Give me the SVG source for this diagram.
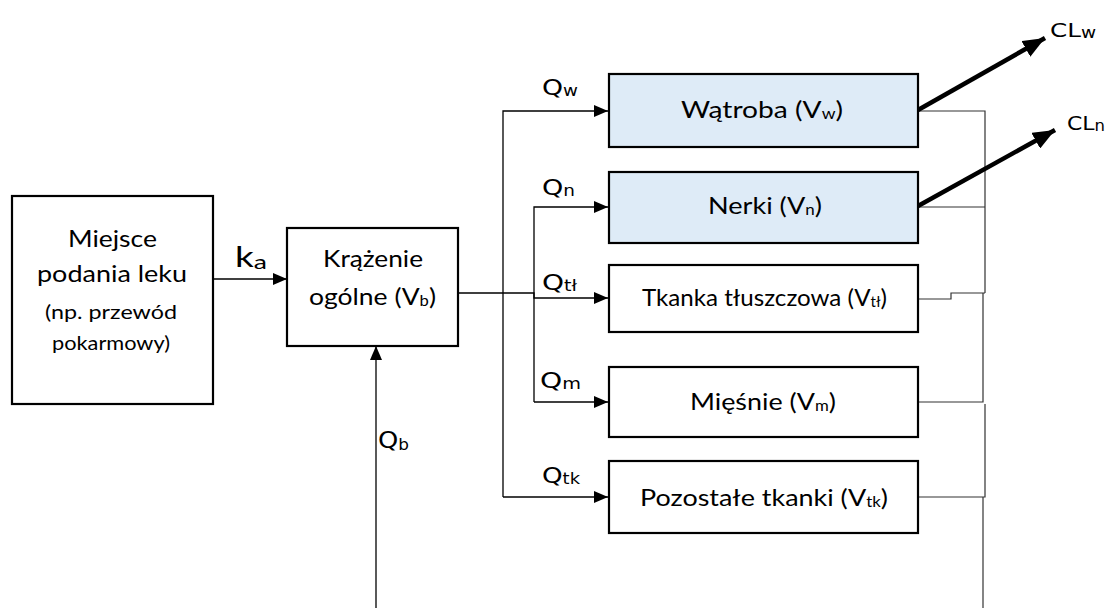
<svg xmlns="http://www.w3.org/2000/svg" width="1107" height="608" viewBox="0 0 1107 608">
  <defs>
    <marker id="arrow" viewBox="0 0 14 12" refX="14" refY="6" markerWidth="14" markerHeight="12" markerUnits="userSpaceOnUse" orient="auto">
      <path d="M0,0 L14,6 L0,12 Z" fill="#000"/>
    </marker>
    <marker id="arrow-big" viewBox="0 0 22 18" refX="22" refY="9" markerWidth="22" markerHeight="18" markerUnits="userSpaceOnUse" orient="auto">
      <path d="M0,0 L22,9 L0,18 Z" fill="#000"/>
    </marker>
    <style>
      .box { fill: #fff; stroke: #000; stroke-width: 2.2; }
      .organ { fill: #deebf7; stroke: #000; stroke-width: 2.2; }
      .wire { fill: none; stroke: #000; stroke-width: 1.3; }
      .ret { fill: none; stroke: #333; stroke-width: 1.2; }
      .clear { fill: none; stroke: #000; stroke-width: 4.5; }
      .t { font-family: Lato, "Liberation Sans", sans-serif; fill: #000; font-size: 24px; }
      .lbl { font-family: "DejaVu Sans", Verdana, sans-serif; fill: #000; font-size: 22px; }
      .sub { font-size: 15px; }
    </style>
  </defs>

  <!-- flows between compartments -->
  <g id="connectors">
    <!-- absorption -->
    <line class="wire" x1="213" y1="279" x2="287" y2="279" marker-end="url(#arrow)"/>
    <!-- arterial outflow from central circulation -->
    <polyline class="wire" points="458,293 534,293 534,298 608,298" marker-end="url(#arrow)"/>
    <!-- outer distribution bus: liver and remaining tissues -->
    <polyline class="wire" points="503,497 503,111 608,111" marker-end="url(#arrow)"/>
    <line class="wire" x1="503" y1="497" x2="608" y2="497" marker-end="url(#arrow)"/>
    <!-- inner distribution bus: kidneys, fat, muscle -->
    <polyline class="wire" points="534,402 534,207 608,207" marker-end="url(#arrow)"/>
    <line class="wire" x1="534" y1="402" x2="608" y2="402" marker-end="url(#arrow)"/>
    <!-- venous return -->
    <polyline class="ret" points="918,111 985,111 985,293"/>
    <line class="ret" x1="918" y1="207" x2="985" y2="207"/>
    <polyline class="ret" points="918,299 951,299 951,293 985,293"/>
    <polyline class="ret" points="983,293 983,402 918,402"/>
    <polyline class="ret" points="985,404 985,497 918,497"/>
    <line class="ret" x1="983" y1="497" x2="983" y2="608"/>
    <!-- return into central circulation -->
    <line class="wire" x1="376" y1="608" x2="376" y2="346" marker-end="url(#arrow)"/>
    <!-- elimination -->
    <line class="clear" x1="918" y1="110" x2="1045" y2="38" marker-end="url(#arrow-big)"/>
    <line class="clear" x1="918" y1="206" x2="1055" y2="130" marker-end="url(#arrow-big)"/>
  </g>

  <!-- flow labels -->
  <g id="labels">
    <text class="t" x="235" y="267" style="font-size:28px" textLength="32" lengthAdjust="spacingAndGlyphs">k<tspan style="font-size:20px" dy="2">a</tspan></text>
    <text class="lbl" x="542" y="95" textLength="36" lengthAdjust="spacingAndGlyphs">Q<tspan class="sub" dy="1">w</tspan></text>
    <text class="lbl" x="542" y="195" textLength="33" lengthAdjust="spacingAndGlyphs">Q<tspan class="sub" dy="1">n</tspan></text>
    <text class="lbl" x="542" y="290" textLength="35" lengthAdjust="spacingAndGlyphs">Q<tspan class="sub" dy="1">tł</tspan></text>
    <text class="lbl" x="540" y="388" textLength="41" lengthAdjust="spacingAndGlyphs">Q<tspan class="sub" dy="1">m</tspan></text>
    <text class="lbl" x="542" y="483" textLength="38" lengthAdjust="spacingAndGlyphs">Q<tspan class="sub" dy="1">tk</tspan></text>
    <text class="lbl" x="378" y="448" style="font-size:23px" textLength="31" lengthAdjust="spacingAndGlyphs">Q<tspan class="sub" dy="2">b</tspan></text>
    <text class="lbl" x="1050" y="37" style="font-size:20px" textLength="46" lengthAdjust="spacingAndGlyphs">CL<tspan class="sub" dy="1">w</tspan></text>
    <text class="lbl" x="1067" y="130" style="font-size:20px" textLength="38" lengthAdjust="spacingAndGlyphs">CL<tspan class="sub" dy="1">n</tspan></text>
  </g>

  <g id="site">
    <rect class="box" x="12" y="196" width="201" height="208"/>
    <text class="t" x="68" y="247" textLength="89" lengthAdjust="spacingAndGlyphs">Miejsce</text>
    <text class="t" x="37" y="282" textLength="150" lengthAdjust="spacingAndGlyphs">podania leku</text>
    <text class="t" x="45" y="319" style="font-size:20px" textLength="132" lengthAdjust="spacingAndGlyphs">(np. przewód</text>
    <text class="t" x="52" y="350" style="font-size:20px" textLength="118" lengthAdjust="spacingAndGlyphs">pokarmowy)</text>
  </g>

  <g id="central">
    <rect class="box" x="287" y="228" width="171" height="118"/>
    <text class="t" x="323" y="267" textLength="100" lengthAdjust="spacingAndGlyphs">Krążenie</text>
    <text class="t" x="309" y="305" textLength="127" lengthAdjust="spacingAndGlyphs">ogólne (V<tspan class="sub" dy="1">b</tspan><tspan dy="-1">)</tspan></text>
  </g>

  <g id="liver">
    <rect class="organ" x="609" y="74" width="309" height="73"/>
    <text class="t" x="681" y="118" textLength="162" lengthAdjust="spacingAndGlyphs">Wątroba (V<tspan class="sub" dy="1">w</tspan><tspan dy="-1">)</tspan></text>
  </g>

  <g id="kidneys">
    <rect class="organ" x="609" y="172" width="309" height="71"/>
    <text class="t" x="708" y="214" textLength="114" lengthAdjust="spacingAndGlyphs">Nerki (V<tspan class="sub" dy="1">n</tspan><tspan dy="-1">)</tspan></text>
  </g>

  <g id="fat">
    <rect class="box" x="609" y="265" width="309" height="67"/>
    <text class="t" x="642" y="306" textLength="245" lengthAdjust="spacingAndGlyphs">Tkanka tłuszczowa (V<tspan class="sub" dy="1">tł</tspan><tspan dy="-1">)</tspan></text>
  </g>

  <g id="muscle">
    <rect class="box" x="609" y="367" width="309" height="70"/>
    <text class="t" x="690" y="410" textLength="146" lengthAdjust="spacingAndGlyphs">Mięśnie (V<tspan class="sub" dy="1">m</tspan><tspan dy="-1">)</tspan></text>
  </g>

  <g id="other">
    <rect class="box" x="609" y="461" width="309" height="72"/>
    <text class="t" x="640" y="506" textLength="248" lengthAdjust="spacingAndGlyphs">Pozostałe tkanki (V<tspan class="sub" dy="1">tk</tspan><tspan dy="-1">)</tspan></text>
  </g>
</svg>
